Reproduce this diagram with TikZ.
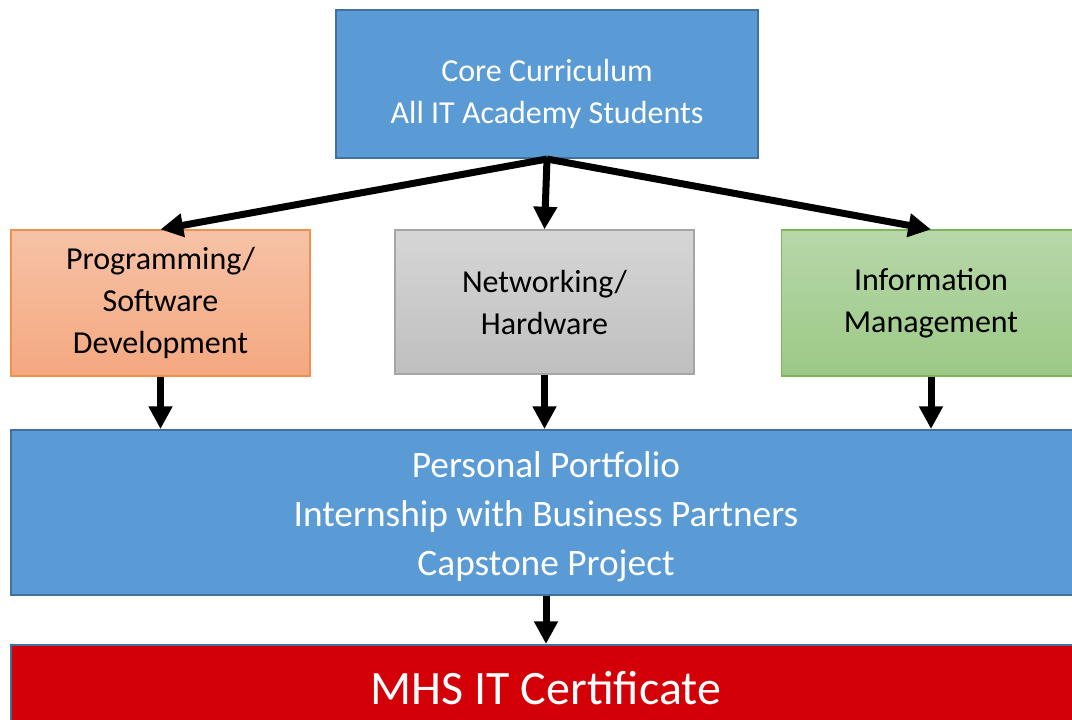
\documentclass[tikz,border=0pt]{standalone}
\usepackage{fontspec}
\setmainfont{Carlito}
\usetikzlibrary{arrows.meta}
\definecolor{coreblue}{HTML}{5B9BD5}
\definecolor{edgeblue}{HTML}{41719C}
\definecolor{progtop}{HTML}{F6C2A6}
\definecolor{progbot}{HTML}{F4A880}
\definecolor{progedge}{HTML}{F0904F}
\definecolor{nettop}{HTML}{D6D6D6}
\definecolor{netbot}{HTML}{BFBFBF}
\definecolor{netedge}{HTML}{A5A5A5}
\definecolor{infotop}{HTML}{B7D7A9}
\definecolor{infobot}{HTML}{9CC986}
\definecolor{infoedge}{HTML}{7DB65A}
\definecolor{certred}{HTML}{D40007}

\begin{document}
\begin{tikzpicture}[x=0.75pt,y=-0.75pt]
\tikzstyle{every node}+=[inner sep=0pt, align=center]
\tikzstyle{box}=[rectangle, line width=1.5pt]
\tikzstyle{track}=[box, line width=0.9pt, minimum width=224.25pt, minimum height=109.5pt,
  font=\fontsize{24}{31.5}\selectfont]
\tikzstyle{flow}=[line width=5.25pt, -{Triangle[length=17pt,width=17pt]}]
\useasboundingbox (0,0) rectangle (1072,719);
\clip (0,0) rectangle (1072,719);
% top box
\node [box, draw=edgeblue, fill=coreblue, text=white, minimum width=316.5pt, minimum height=111pt,
  font=\fontsize{24}{31.5}\selectfont] (core) at (547,84) {\rule{0pt}{31pt}Core Curriculum\\All IT Academy Students};
% the three tracks
\node [track, draw=progedge, top color=progtop, bottom color=progbot] (prog) at (160.5,303)
  {Programming/\\Software\\Development};
\node [track, draw=netedge, top color=nettop, bottom color=netbot, minimum height=108pt] (net) at (544.5,302)
  {Networking/\\Hardware};
\node [track, draw=infoedge, top color=infotop, bottom color=infobot] (info) at (931,303)
  {Information\\Management};
% common part
\node [box, draw=edgeblue, fill=coreblue, text=white, minimum width=802.5pt, minimum height=123.75pt,
  font=\fontsize{28}{36.75}\selectfont] (port) at (546,512.5)
  {\rule{0pt}{26pt}Personal Portfolio\\Internship with Business Partners\\Capstone Project};
\node [box, draw=edgeblue, fill=certred, text=white, minimum width=802.5pt, minimum height=64.5pt,
  font=\fontsize{36}{40}\selectfont] (cert) at (546,688) {MHS IT Certificate};
% arrows
\draw [flow] (core.south) -- (prog.north);
\draw [flow] (core.south) -- (net.north);
\draw [flow] (core.south) -- (info.north);
\draw [flow] (prog.south) -- (prog.south |- port.north);
\draw [flow] (net.south) -- (net.south |- port.north);
\draw [flow] (info.south) -- (info.south |- port.north);
\draw [flow] (port.south) -- (cert.north);
\end{tikzpicture}
\end{document}
